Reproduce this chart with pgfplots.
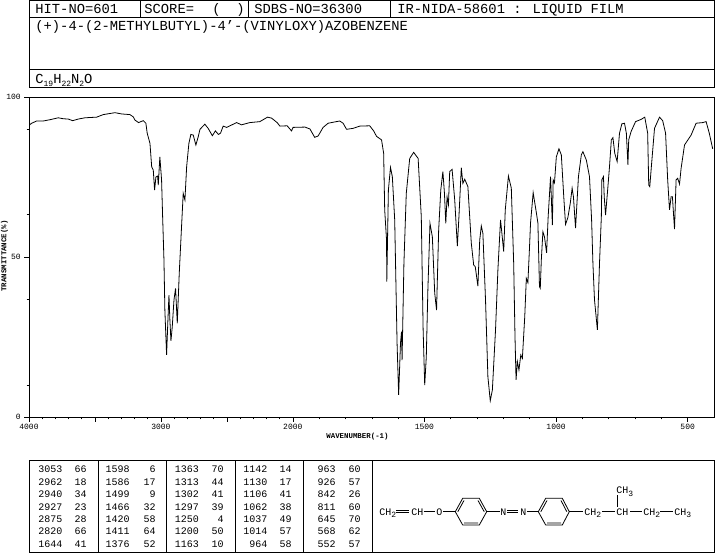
\documentclass[border=0pt]{standalone}
\usepackage{pgfplots}
\pgfplotsset{compat=1.18}
\usepackage{pgfplotstable}
\usepackage{fontspec}
\setmainfont{Liberation Mono}
\pgfplotstableread{
wn T
3995 91.3
3980 91.8
3942 92.5
3892 92.5
3841 92.9
3778 93.5
3740 93.2
3702 93.1
3669 92.6
3627 93.1
3576 93.5
3487 93.7
3437 94.5
3348 95.1
3298 94.7
3235 94.5
3210 93.8
3197 92.8
3170 92.0
3134 92.6
3114 91.8
3104 88.7
3083 85.5
3070 78.2
3058 77.2
3048 70.9
3038 75.0
3025 75.3
3020 72.5
3008 81.3
2995 74.1
2987 62.6
2977 49.1
2970 33.4
2957 19.4
2947 30.3
2939 38.1
2932 30.3
2924 23.8
2914 28.2
2901 36.6
2889 40.2
2876 29.3
2861 44.9
2846 57.5
2831 69.9
2818 67.8
2805 78.2
2788 85.5
2773 88.3
2755 88.1
2735 85.0
2717 87.6
2704 89.9
2667 91.5
2642 90.2
2610 87.9
2587 89.4
2564 88.3
2548 88.7
2528 90.9
2502 90.5
2426 92.0
2389 91.3
2326 92.0
2250 92.3
2192 93.7
2161 93.4
2119 92.0
2098 90.9
2043 91.0
2010 89.4
1999 90.5
1954 90.6
1935 90.0
1917 87.4
1904 87.8
1885 90.5
1866 91.8
1822 92.5
1809 91.8
1796 89.9
1771 90.2
1746 90.9
1708 91.0
1693 89.4
1682 87.7
1663 86.6
1655 82.4
1651 64.7
1644 55.3
1643 42.3
1637 70.9
1629 78.0
1622 75.1
1613 61.6
1604 23.0
1598 6.9
1591 23.1
1587 26.7
1585 17.8
1578 48.0
1569 69.9
1556 80.8
1541 82.7
1524 80.8
1512 62.6
1505 27.2
1499 10.0
1493 18.8
1487 39.7
1479 60.5
1470 56.3
1461 38.7
1454 33.4
1446 58.4
1438 70.9
1430 76.7
1424 69.9
1419 60.5
1414 68.8
1409 66.3
1404 76.7
1395 77.4
1385 67.8
1375 53.4
1369 62.6
1360 77.9
1354 73.0
1347 74.3
1335 72.0
1322 54.3
1313 47.5
1307 47.0
1297 40.9
1290 55.3
1284 59.7
1278 57.4
1268 36.6
1259 12.6
1250 5.1
1242 8.4
1230 27.2
1221 45.9
1211 61.6
1207 58.4
1199 51.7
1193 64.7
1181 75.3
1170 71.5
1161 48.0
1156 25.1
1152 11.6
1147 17.3
1141 14.7
1134 19.4
1128 18.3
1119 31.3
1113 43.3
1107 42.0
1101 52.8
1097 60.6
1087 70.1
1075 63.9
1069 60.6
1063 40.7
1060 40.2
1056 49.1
1050 57.9
1044 56.3
1036 51.3
1030 62.6
1021 75.1
1014 60.0
1011 74.1
1006 73.2
999 81.3
989 83.8
980 81.9
970 67.8
964 60.2
955 62.4
946 66.8
939 71.5
934 68.8
926 59.0
915 75.1
904 81.9
898 82.9
885 80.3
873 75.1
865 61.6
860 48.0
854 36.6
843 27.2
835 48.0
828 62.6
826 74.1
820 75.1
817 68.8
812 63.1
803 72.0
797 78.2
790 86.6
784 87.3
777 82.4
768 79.8
759 88.7
750 91.6
740 91.8
733 88.7
727 78.8
724 86.6
715 89.2
698 92.3
677 93.0
663 93.7
652 88.7
648 72.5
644 72.0
638 78.2
626 90.2
607 93.7
595 92.6
584 88.7
576 74.1
569 64.7
563 68.8
558 68.8
550 58.7
544 74.1
538 74.6
531 72.8
525 77.7
512 85.0
487 88.1
468 91.8
443 92.0
430 92.3
418 88.7
405 83.8
}\spectrum
\newcommand{\hdr}[3]{\node[anchor=base west,inner sep=0pt,font=\fontsize{13.8}{14}\selectfont] at (#1,#2) {#3};}
\newcommand{\tb}[3]{\node[anchor=base east,inner sep=0pt,font=\fontsize{10}{11}\selectfont] at (#1,#2) {#3};}
\newcommand{\mol}[2]{\node[anchor=base west,inner sep=0pt,font=\fontsize{10}{11}\selectfont] at #1 {#2};}
\newcommand{\subs}[1]{\raisebox{-2.5pt}{\fontsize{8}{9}\selectfont #1}}
\begin{document}
\begin{tikzpicture}
\path[use as bounding box] (0,0) rectangle (715pt,553pt);
\begin{axis}[
  at={(29pt,136pt)},anchor=south west,
  width=685pt,height=320pt,scale only axis,
  x coord trafo/.code={\pgfmathparse{#1>=2000 ? 29+(4000-#1)*0.132 : 293+(2000-#1)*0.2634}},
  xmin=4000,xmax=400,ymin=0,ymax=100,
  axis line style={line width=0.8pt},
  tick align=outside,
  xtick={4000,3500,3000,2500,2000,1500,1000,500},
  xticklabels={4000,,3000,,2000,1500,1000,500},
  minor xtick={3900,3800,3700,3600,3400,3300,3200,3100,2900,2800,2700,2600,2400,2300,2200,2100,1900,1800,1700,1600,1400,1300,1200,1100,900,800,700,600},
  ytick={0,50,100},yticklabels={0,50,100},
  minor ytick={10,36.7,63.3,90},
  major tick length=5pt,minor tick length=2.5pt,
  every tick/.style={black,line width=0.6pt},
  tick label style={font=\fontsize{8}{9}\selectfont},
  xticklabel style={inner sep=0pt,yshift=-2pt},
  yticklabel style={inner sep=0pt,xshift=-3pt},
  xtick pos=bottom,ytick pos=left,
  clip=false
]
\addplot[black,line width=0.8pt,sharp plot,mark=none] table[x=wn,y=T] {\spectrum};
\end{axis}
\begin{scope}[x=1pt,y=-1pt,yshift=553pt,line width=0.8pt]
% axis captions
\node[inner sep=0pt,font=\fontsize{7.4}{8}\selectfont\bfseries] at (357.5,437) {WAVENUMBER(-1)};
\node[inner sep=0pt,rotate=90,font=\fontsize{7.4}{8}\selectfont\bfseries] at (4.5,256) {TRANSMITTANCE(\%)};
% header frames
\draw (29.5,0.5) rectangle (714,87);
\draw (29.5,17) -- (714,17);
\draw (29.5,69.5) -- (714,69.5);
\draw (140.5,0.5) -- (140.5,17);
\draw (248.5,0.5) -- (248.5,17);
\draw (390,0.5) -- (390,17);
\hdr{35}{14}{HIT-NO=601}
\hdr{144}{14}{SCORE=}
\hdr{212}{14}{(}
\hdr{236}{14}{)}
\hdr{254}{14}{SDBS-NO=36300}
\hdr{397}{14}{IR-NIDA-58601 : LIQUID FILM}
\hdr{35}{31}{(+)-4-(2-METHYLBUTYL)-4'-(VINYLOXY)AZOBENZENE}
\node[anchor=base west,inner sep=0pt,font=\fontsize{13.8}{14}\selectfont] at (35,84) {C\subs{19}H\subs{22}N\subs{2}O};
% peak table
\draw (29.5,460.5) rectangle (714,552);
\foreach \x in {98.5,166.5,235.5,303.5,372.5} \draw (\x,460.5) -- (\x,552);
\newcommand{\trow}[3]{\tb{#1}{#3}{#2}}
\foreach \i/\a/\b in {0/3053/66,1/2962/18,2/2940/34,3/2927/23,4/2875/28,5/2820/66,6/1644/41}{\pgfmathsetmacro\yy{473+12.4*\i}\tb{62.7}{\yy}{\a}\tb{87}{\yy}{\b}}
\foreach \i/\a/\b in {0/1598/6,1/1586/17,2/1499/9,3/1466/32,4/1420/58,5/1411/64,6/1376/52}{\pgfmathsetmacro\yy{473+12.4*\i}\tb{130}{\yy}{\a}\tb{156}{\yy}{\b}}
\foreach \i/\a/\b in {0/1363/70,1/1313/44,2/1302/41,3/1297/39,4/1250/4,5/1200/50,6/1163/10}{\pgfmathsetmacro\yy{473+12.4*\i}\tb{199.3}{\yy}{\a}\tb{224}{\yy}{\b}}
\foreach \i/\a/\b in {0/1142/14,1/1130/17,2/1106/41,3/1062/38,4/1037/49,5/1014/57,6/964/58}{\pgfmathsetmacro\yy{473+12.4*\i}\tb{267.7}{\yy}{\a}\tb{292}{\yy}{\b}}
\foreach \i/\a/\b in {0/963/60,1/926/57,2/842/26,3/811/60,4/645/70,5/568/62,6/552/57}{\pgfmathsetmacro\yy{473+12.4*\i}\tb{336}{\yy}{\a}\tb{361}{\yy}{\b}}
% structure
\mol{(379,515.5)}{CH\subs{2}}
\draw (396,510.7) -- (409,510.7) (396,512.9) -- (409,512.9);
\mol{(411,515.5)}{CH}
\draw (423.5,511.7) -- (435,511.7);
\mol{(436,515.5)}{O}
\draw (443,511.7) -- (455.3,511.7);
\draw (455.3,511.7) -- (462.7,498.3) -- (479.3,498.3) -- (486.7,511.7) -- (479.3,525) -- (462.7,525) -- cycle;
\draw (457.8,511.7) -- (464,500.5) (484.2,511.7) -- (478,500.5) (464,523) -- (478,523);
\draw (486.7,511.7) -- (500,511.7);
\mol{(500,515.5)}{N}
\draw (507,510.7) -- (518,510.7) (507,512.9) -- (518,512.9);
\mol{(520,515.5)}{N}
\draw (527,511.7) -- (538.3,511.7);
\draw (538.3,511.7) -- (545.7,498.3) -- (562.3,498.3) -- (569.3,511.7) -- (562.3,525) -- (545.7,525) -- cycle;
\draw (540.8,511.7) -- (547,500.5) (566.8,511.7) -- (561,500.5) (547,523) -- (561,523);
\draw (569.3,511.7) -- (583,511.7);
\mol{(584,515.5)}{CH\subs{2}}
\draw (602,511.7) -- (615,511.7);
\mol{(616,515.5)}{CH}
\draw (630,511.7) -- (642,511.7);
\mol{(643,515.5)}{CH\subs{2}}
\draw (660,511.7) -- (673,511.7);
\mol{(674,515.5)}{CH\subs{3}}
\mol{(616,494)}{CH\subs{3}}
\draw (617.7,495.5) -- (617.7,507);
\end{scope}
\end{tikzpicture}
\end{document}
